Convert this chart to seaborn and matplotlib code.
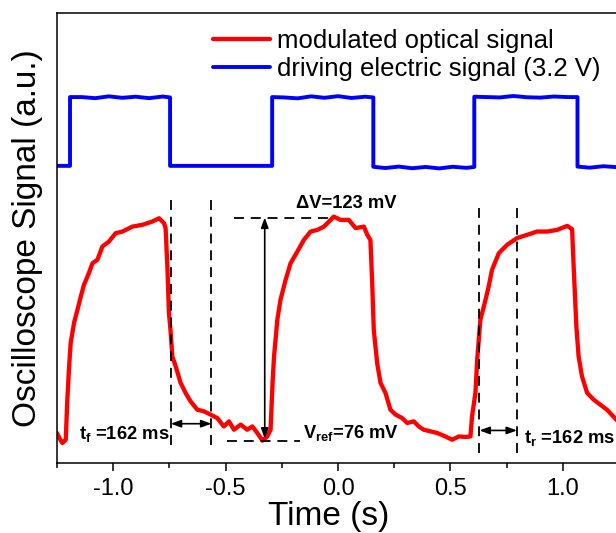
import matplotlib
matplotlib.use("Agg")
import matplotlib.pyplot as plt
import seaborn as sns
from matplotlib.ticker import MultipleLocator, FormatStrFormatter

# --- data (time in s, signal in mV) ----------------------------------------
red_time = [
    -1.250, -1.238, -1.226, -1.211, -1.204, -1.196, -1.189, -1.174, -1.159, -1.144,
    -1.130, -1.108, -1.092, -1.070, -1.048, -1.019, -0.989, -0.959, -0.915, -0.870,
    -0.826, -0.796, -0.774, -0.767, -0.759, -0.752, -0.744, -0.737, -0.722, -0.700,
    -0.678, -0.656, -0.626, -0.596, -0.567, -0.537, -0.508, -0.485, -0.463, -0.433,
    -0.404, -0.381, -0.359, -0.336, -0.315, -0.300, -0.292, -0.285, -0.270, -0.256,
    -0.233, -0.211, -0.181, -0.152, -0.122, -0.092, -0.063, -0.033, -0.019, 0.011,
    0.048, 0.078, 0.115, 0.130, 0.144, 0.152, 0.159, 0.174, 0.189, 0.211,
    0.233, 0.256, 0.285, 0.308, 0.337, 0.359, 0.381, 0.411, 0.441, 0.470,
    0.508, 0.537, 0.567, 0.589, 0.596, 0.611, 0.619, 0.633, 0.656, 0.670,
    0.685, 0.715, 0.752, 0.796, 0.841, 0.885, 0.930, 0.974, 1.019, 1.041,
    1.048, 1.060, 1.070, 1.085, 1.108, 1.137, 1.167, 1.196, 1.238, 1.250,
]
red_mv = [
    80.6, 77.5, 75.1, 76.9, 98.9, 117.2, 130.2, 141.2, 148.3, 155.6,
    162.0, 168.5, 173.9, 175.8, 183.1, 185.8, 190.4, 191.3, 194.0, 195.0,
    196.8, 198.6, 195.9, 193.2, 172.1, 146.5, 135.5, 122.7, 117.2, 108.1,
    102.6, 98.0, 93.4, 92.5, 90.7, 88.8, 84.2, 87.0, 82.4, 85.2,
    82.4, 84.2, 80.6, 76.4, 78.7, 82.4, 106.2, 122.0, 142.8, 153.8,
    164.8, 173.9, 180.3, 186.7, 191.3, 192.2, 194.0, 197.7, 199.5, 197.7,
    197.7, 193.2, 194.0, 189.5, 186.7, 163.0, 137.3, 119.0, 108.1, 102.6,
    93.4, 90.7, 88.8, 86.1, 87.0, 84.2, 82.4, 81.5, 80.6, 79.1,
    76.9, 78.7, 78.4, 78.7, 89.7, 102.6, 120.9, 142.8, 153.8, 161.1,
    170.3, 179.4, 184.0, 187.7, 189.5, 191.3, 191.3, 192.2, 194.4, 192.6,
    172.1, 139.1, 122.7, 111.7, 102.6, 98.9, 96.1, 93.4, 87.9, 86.5,
]

blue_time = [
    -1.25, -1.192, -1.192, -1.14, -1.08, -1.02, -0.96, -0.90, -0.84, -0.78, -0.747,
    -0.747, -0.293, -0.293, -0.24, -0.18, -0.12, -0.06, 0.0, 0.06, 0.12, 0.157,
    0.157, 0.21, 0.27, 0.33, 0.39, 0.45, 0.51, 0.57, 0.606,
    0.606, 0.66, 0.72, 0.78, 0.84, 0.90, 0.96, 1.02, 1.065,
    1.065, 1.12, 1.18, 1.25,
]
blue_mv = [
    227.4, 227.4, 265.2, 265.2, 264.6, 265.6, 264.8, 265.4, 264.6, 265.5, 265.0,
    227.4, 227.4, 265.2, 265.0, 264.5, 265.6, 264.8, 265.7, 264.7, 265.4, 265.0,
    226.9, 226.2, 227.0, 226.1, 226.8, 226.0, 226.9, 226.3, 226.8,
    265.4, 265.2, 265.0, 265.8, 265.1, 264.9, 265.5, 265.2, 265.2,
    227.0, 226.4, 227.2, 226.6,
]

legend_labels = ["modulated optical signal", "driving electric signal (3.2 V)"]

# marker positions for rise / fall time and amplitude
t_fall = [-0.744, -0.563]
t_rise = [0.629, 0.796]
v_ref = 76.0
v_top = 199.0
dv_time = -0.326

# --- style ------------------------------------------------------------------
sns.set_style("ticks")
plt.rcParams["font.family"] = ["Liberation Sans", "DejaVu Sans"]
plt.rcParams["mathtext.fontset"] = "custom"
plt.rcParams["mathtext.rm"] = "Liberation Sans"
plt.rcParams["mathtext.bf"] = "Liberation Sans:bold"
plt.rcParams["mathtext.it"] = "Liberation Sans:italic"
plt.rcParams["axes.unicode_minus"] = False
plt.rcParams["text.color"] = "black"
plt.rcParams["axes.labelcolor"] = "black"
plt.rcParams["xtick.color"] = "black"

fig = plt.figure(figsize=(6.16, 5.33), dpi=100)
ax = fig.add_axes([0.0925, 0.1313, 0.9125, 0.8443])

sns.lineplot(x=red_time, y=red_mv, sort=False, estimator=None, color="#ff0000",
             lw=3.1, label=legend_labels[0], ax=ax)
sns.lineplot(x=blue_time, y=blue_mv, sort=False, estimator=None, color="#0000ff",
             lw=2.8, label=legend_labels[1], ax=ax)

# dashed guide lines
dash = dict(color="black", lw=1.3, dashes=(5.5, 3.8))
for t in t_fall:
    ax.plot([t, t], [74.2, 211.4], **dash)
for t in t_rise:
    ax.plot([t, t], [69.6, 207.0], **dash)
ax.plot([-0.464, -0.024], [v_top, v_top], **dash)
ax.plot([-0.496, -0.167], [v_ref, v_ref], **dash)

# double arrows
arrow = dict(arrowstyle="<|-|>,head_length=0.6,head_width=0.22", color="black",
             lw=1.2, shrinkA=0, shrinkB=0)
ax.annotate("", xy=(t_fall[0], 85.7), xytext=(t_fall[1], 85.7), arrowprops=arrow)
ax.annotate("", xy=(t_rise[0], 82.0), xytext=(t_rise[1], 82.0), arrowprops=arrow)
ax.annotate("", xy=(dv_time, v_top), xytext=(dv_time, 77.5), arrowprops=arrow)

txt = dict(fontsize=13.2, fontweight="bold", va="baseline", color="black")
ax.text(0.036, 204.5, "\u0394V=123 mV", ha="center", **txt)
ax.text(-1.154, 77.5, r"t$_\mathbf{f}$ =162 ms", ha="left", **txt)
ax.text(-0.158, 77.9, r"V$_\mathbf{ref}$=76 mV", ha="left", **txt)
ax.text(0.826, 75.1, r"t$_\mathbf{r}$ =162 ms", ha="left", **txt)

# axes
ax.set_xlim(-1.25, 1.25)
ax.set_ylim(64.1, 311.4)
ax.set_yticks([])
ax.xaxis.set_major_locator(MultipleLocator(0.5))
ax.xaxis.set_minor_locator(MultipleLocator(0.25))
ax.xaxis.set_major_formatter(FormatStrFormatter("%.1f"))
ax.tick_params(axis="x", which="major", direction="out", length=5.8, width=1.1,
               labelsize=17, pad=5, colors="black")
ax.tick_params(axis="x", which="minor", direction="out", length=3.6, width=1.1,
               colors="black")
for side in ["left", "right", "top", "bottom"]:
    ax.spines[side].set_visible(True)
    ax.spines[side].set_linewidth(1.1)
    ax.spines[side].set_color("black")

ax.set_xlabel("Time (s)", fontsize=24, labelpad=1)
ax.xaxis.set_label_coords(0.484, -0.085)
ax.set_ylabel("Oscilloscope Signal (a.u.)", fontsize=24, labelpad=10)

ax.legend(loc="upper left", bbox_to_anchor=(0.278, 0.965), frameon=False,
          fontsize=18.5, handlelength=2.2, handletextpad=0.27, labelspacing=0.17,
          borderpad=0, borderaxespad=0)

fig.savefig("out.png", dpi=100)
